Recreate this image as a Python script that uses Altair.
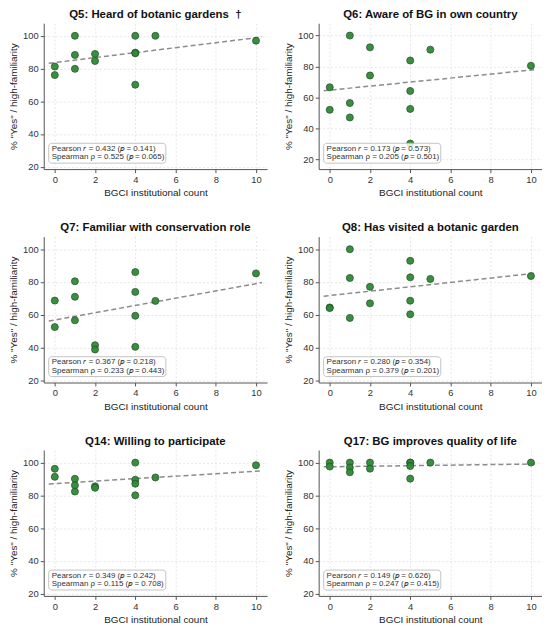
import altair as alt
import pandas as pd

# ---- data ----
counts = [0, 0, 1, 1, 1, 2, 2, 4, 4, 4, 4, 5, 10]

q5 = [81.2, 76.0, 100, 88.3, 79.8, 88.9, 84.6, 100, 89.7, 89.3, 70.1, 100, 97.0]
q6 = [66.6, 52.0, 100, 56.4, 47.1, 92.4, 74.2, 83.9, 64.2, 52.6, 30.2, 90.9, 80.5]
q7 = [68.6, 52.4, 80.4, 70.9, 56.5, 41.3, 38.7, 86.0, 73.9, 59.3, 40.3, 68.4, 85.2]
q8 = [64.4, 64.0, 100, 82.4, 58.0, 77.0, 66.9, 92.9, 82.8, 68.5, 60.2, 81.8, 83.6]
q14 = [96.2, 91.3, 90.1, 86.1, 82.3, 85.5, 84.6, 100, 89.5, 87.1, 80.0, 90.9, 98.4]
q17 = [100, 97.6, 100, 97.0, 94.1, 100, 96.3, 100, 100, 97.9, 90.2, 100, 100]

series = [q5, q6, q7, q8, q14, q17]

titles = [
    "Q5: Heard of botanic gardens\u00a0\u00a0\u2020",
    "Q6: Aware of BG in own country",
    "Q7: Familiar with conservation role",
    "Q8: Has visited a botanic garden",
    "Q14: Willing to participate",
    "Q17: BG improves quality of life",
]

pearson_r = [0.432, 0.173, 0.367, 0.280, 0.349, 0.149]
pearson_p = [0.141, 0.573, 0.218, 0.354, 0.242, 0.626]
spearman_rho = [0.525, 0.205, 0.233, 0.379, 0.115, 0.247]
spearman_p = [0.065, 0.501, 0.443, 0.201, 0.708, 0.415]

y_domains = [[18.5, 107.7], [13.7, 108.0], [18.5, 107.7], [18.5, 107.7], [18.5, 107.7], [18.5, 107.7]]

x_ticks = [0, 2, 4, 6, 8, 10]
y_ticks = [20, 40, 60, 80, 100]

W, H = 225, 147
FONT = "Liberation Sans"


def panel(i):
    df = pd.DataFrame({"count": counts, "pct": series[i]})
    base = alt.Chart(df)
    x = alt.X("count:Q",
              scale=alt.Scale(domain=[-0.55, 10.55], nice=False, zero=False),
              axis=alt.Axis(values=x_ticks, title="BGCI institutional count"))
    y = alt.Y("pct:Q",
              scale=alt.Scale(domain=y_domains[i], nice=False, zero=False),
              axis=alt.Axis(values=y_ticks, title='% "Yes" / high-familiarity'))

    reg = base.transform_regression("count", "pct", extent=[-0.3, 10.3]).mark_line(
        color="#8c8c8c", strokeWidth=1.5, strokeDash=[5, 3]
    ).encode(x=x, y=y)

    pts = base.mark_circle(
        size=50, color="#2f8a36", opacity=0.95, stroke="#1f4f22", strokeWidth=0.8
    ).encode(x=x, y=y)

    line1 = f"Pearson \U0001D45F = {pearson_r[i]:.3f} (\U0001D45D = {pearson_p[i]:.3f})"
    line2 = f"Spearman \u03c1 = {spearman_rho[i]:.3f} (\U0001D45D = {spearman_p[i]:.3f})"
    ann = alt.Chart(pd.DataFrame({"l1": [line1], "l2": [line2]}))

    box = ann.mark_rect(
        fill="white", fillOpacity=0.85, stroke="#b5b5b5", strokeWidth=0.8, cornerRadius=3
    ).encode(x=alt.value(5), x2=alt.value(123), y=alt.value(121), y2=alt.value(141))

    t1 = ann.mark_text(align="left", baseline="middle", fontSize=8, font=FONT, color="#333").encode(
        x=alt.value(8), y=alt.value(126.5), text="l1:N")
    t2 = ann.mark_text(align="left", baseline="middle", fontSize=8, font=FONT, color="#333").encode(
        x=alt.value(8), y=alt.value(135), text="l2:N")

    return alt.layer(reg, pts, box, t1, t2).properties(
        width=W, height=H,
        title=alt.TitleParams(titles[i], fontSize=11.5, fontWeight="bold", font=FONT,
                              color="#111", anchor="middle", offset=3),
    )


rows = [alt.hconcat(panel(0), panel(1), spacing=16),
        alt.hconcat(panel(2), panel(3), spacing=16),
        alt.hconcat(panel(4), panel(5), spacing=16)]

chart = alt.vconcat(*rows, spacing=24).properties(
    padding={"left": 0, "top": -2, "right": 0, "bottom": 0}
).configure_view(stroke=None).configure_axis(
    labelFont=FONT, titleFont=FONT, labelFontSize=9.5, titleFontSize=10,
    labelColor="#333", titleColor="#222", titleFontWeight="normal",
    domainColor="#555", domainWidth=1, tickColor="#555", tickSize=3.5, labelPadding=2,
    grid=True, gridColor="#dcdcdc", gridDash=[2, 2], gridWidth=0.7,
).configure_axisY(titlePadding=4).configure_axisX(titlePadding=4)

chart.save("out.html", embed_options={"renderer": "svg", "actions": False})
